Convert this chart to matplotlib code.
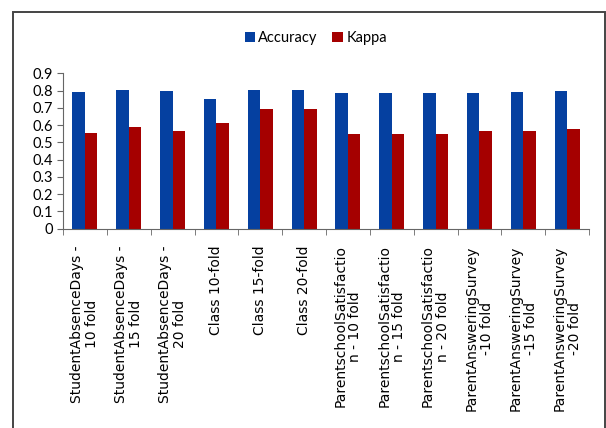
import numpy as np
import matplotlib.pyplot as plt
from matplotlib.patches import Rectangle

plt.rcParams['font.family'] = ['Lato', 'DejaVu Sans']

labels = [
    "StudentAbsenceDays -\n10 fold",
    "StudentAbsenceDays -\n15 fold",
    "StudentAbsenceDays -\n20 fold",
    "Class 10-fold",
    "Class 15-fold",
    "Class 20-fold",
    "ParentschoolSatisfactio\nn - 10 fold",
    "ParentschoolSatisfactio\nn - 15 fold",
    "ParentschoolSatisfactio\nn - 20 fold",
    "ParentAnsweringSurvey\n-10 fold",
    "ParentAnsweringSurvey\n-15 fold",
    "ParentAnsweringSurvey\n-20 fold",
]
accuracy = [0.790, 0.805, 0.796, 0.751, 0.803, 0.803, 0.785, 0.785, 0.786, 0.786, 0.792, 0.796]
kappa = [0.556, 0.591, 0.568, 0.614, 0.693, 0.693, 0.547, 0.547, 0.547, 0.568, 0.568, 0.577]

blue = '#0540a0'
red = '#a50000'

fig = plt.figure(figsize=(6.06, 4.28), dpi=100)
ax = fig.add_axes([0.104, 0.4657, 0.868, 0.363])

x = np.arange(len(labels))
w = 0.286
ax.bar(x - w / 2, accuracy, w, color=blue, label='Accuracy')
ax.bar(x + w / 2, kappa, w, color=red, label='Kappa')

ax.set_xlim(-0.5, len(labels) - 0.5)
ax.set_ylim(0, 0.9)
ax.set_yticks(np.arange(0, 0.91, 0.1))
ax.set_yticklabels(['0'] + [f'{v:.1f}' for v in np.arange(0.1, 0.91, 0.1)], fontsize=10.5)

ax.set_xticks(x)
ax.set_xticklabels(labels, rotation=90, ha='center', va='top', linespacing=1.1,
                   multialignment='center', fontsize=10, family='DejaVu Sans')
ax.set_xticks(np.arange(-0.5, len(labels)), minor=True)
ax.tick_params(axis='x', which='major', length=0, pad=12)
ax.tick_params(axis='x', which='minor', length=4.5, color='#666666')
ax.tick_params(axis='y', length=4, color='#666666', pad=3)

for s in ['top', 'right']:
    ax.spines[s].set_visible(False)
for s in ['left', 'bottom']:
    ax.spines[s].set_color('#666666')

fig.legend(loc='center', bbox_to_anchor=(0.521, 0.911), ncol=2, frameon=False,
           fontsize=10.5, handlelength=0.7, handleheight=0.75, handletextpad=0.25,
           columnspacing=1.0)

# outer chart frame
fig.add_artist(Rectangle((0.0215, -0.05), 0.9765, 1.022, transform=fig.transFigure,
                         fill=False, edgecolor='#444444', linewidth=1.4, clip_on=False))

fig.savefig('out.png', dpi=100)
